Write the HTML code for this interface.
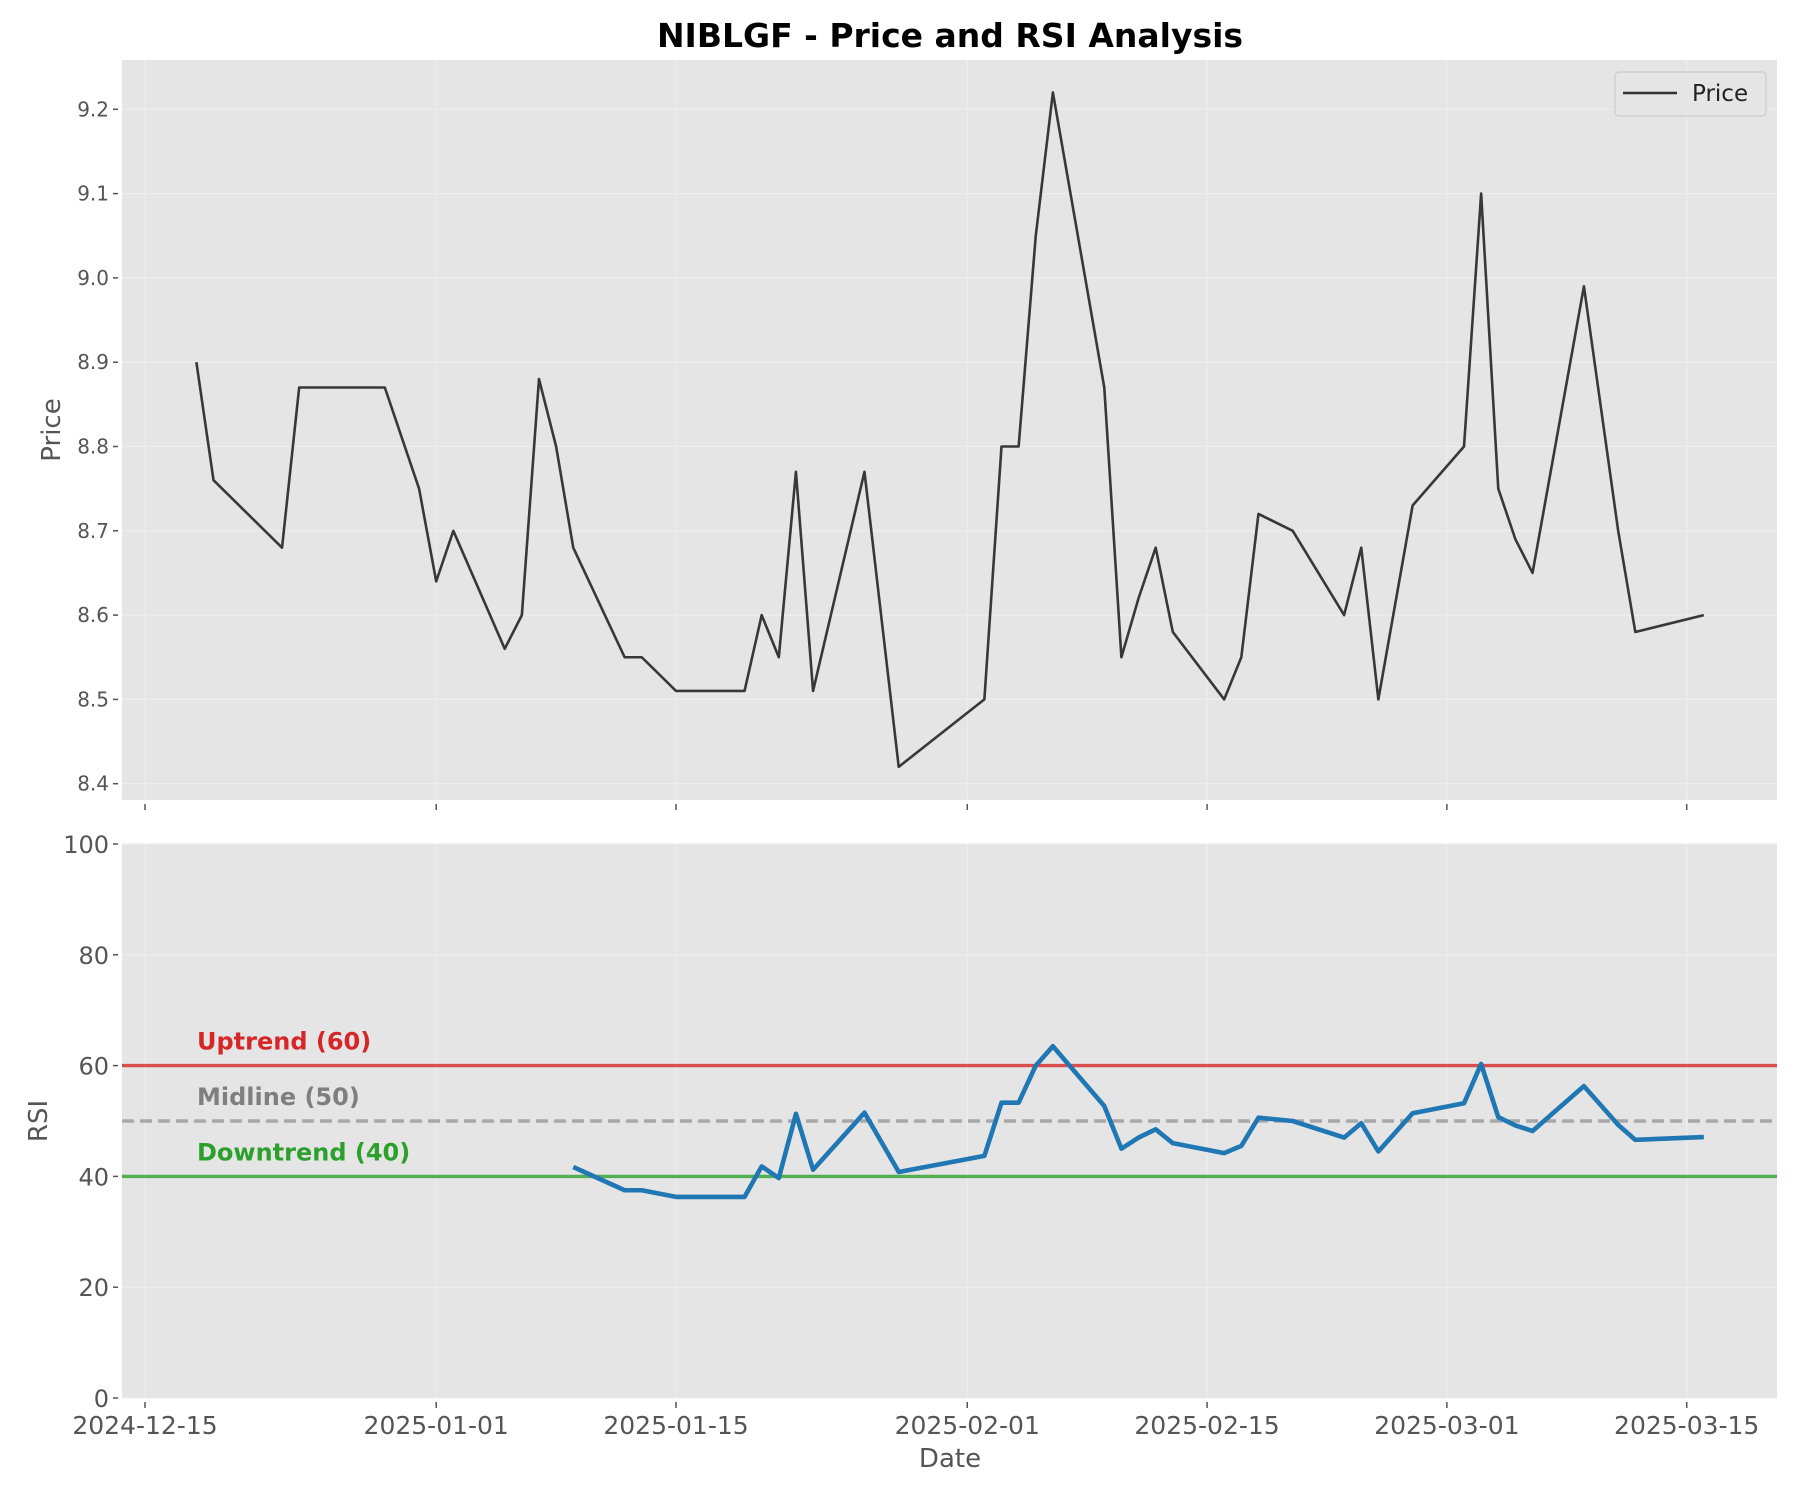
<!DOCTYPE html>
<html><head><meta charset="utf-8"><style>
html,body{margin:0;padding:0;background:#fff;}
svg{display:block;font-family:"DejaVu Sans","Liberation Sans",sans-serif;}
</style></head><body>
<svg id="chart" width="1800" height="1500" viewBox="0 0 1800 1500">
<text x="950" y="47" text-anchor="middle" font-size="33" font-weight="bold" fill="#000">NIBLGF - Price and RSI Analysis</text>
<rect x="122" y="60" width="1655" height="740" fill="#e5e5e5"/>
<rect x="122" y="844" width="1655" height="554" fill="#e5e5e5"/>
<g id="grid"></g>
<g id="axes"></g>
<g id="series"></g>
<text transform="translate(60,430) rotate(-90)" text-anchor="middle" font-size="26" fill="#555">Price</text>
<text transform="translate(47,1121) rotate(-90)" text-anchor="middle" font-size="26" fill="#555">RSI</text>
<text x="950" y="1467" text-anchor="middle" font-size="26" fill="#555">Date</text>
<g>
<rect x="1615" y="72" width="151" height="44" rx="4" fill="#e5e5e5" stroke="#cccccc" stroke-width="1.2"/>
<line x1="1623" y1="93" x2="1677" y2="93" stroke="#333" stroke-width="2.5"/>
<text x="1692" y="101" font-size="23" fill="#222">Price</text>
</g>
</svg>
<script>
const priceDates=["2024-12-18","2024-12-19","2024-12-23","2024-12-24","2024-12-26","2024-12-27","2024-12-29","2024-12-31","2025-01-01","2025-01-02","2025-01-05","2025-01-06","2025-01-07","2025-01-08","2025-01-09","2025-01-12","2025-01-13","2025-01-15","2025-01-19","2025-01-20","2025-01-21","2025-01-22","2025-01-23","2025-01-26","2025-01-28","2025-02-02","2025-02-03","2025-02-04","2025-02-05","2025-02-06","2025-02-09","2025-02-10","2025-02-11","2025-02-12","2025-02-13","2025-02-16","2025-02-17","2025-02-18","2025-02-20","2025-02-23","2025-02-24","2025-02-25","2025-02-27","2025-03-02","2025-03-03","2025-03-04","2025-03-05","2025-03-06","2025-03-09","2025-03-11","2025-03-12","2025-03-16"];
const priceValues=[8.90,8.76,8.68,8.87,8.87,8.87,8.87,8.75,8.64,8.70,8.56,8.60,8.88,8.80,8.68,8.55,8.55,8.51,8.51,8.60,8.55,8.77,8.51,8.77,8.42,8.50,8.80,8.80,9.05,9.22,8.87,8.55,8.62,8.68,8.58,8.50,8.55,8.72,8.70,8.60,8.68,8.50,8.73,8.80,9.10,8.75,8.69,8.65,8.99,8.70,8.58,8.60];
const rsiDates=["2025-01-09","2025-01-12","2025-01-13","2025-01-15","2025-01-19","2025-01-20","2025-01-21","2025-01-22","2025-01-23","2025-01-26","2025-01-28","2025-02-02","2025-02-03","2025-02-04","2025-02-05","2025-02-06","2025-02-09","2025-02-10","2025-02-11","2025-02-12","2025-02-13","2025-02-16","2025-02-17","2025-02-18","2025-02-20","2025-02-23","2025-02-24","2025-02-25","2025-02-27","2025-03-02","2025-03-03","2025-03-04","2025-03-05","2025-03-06","2025-03-09","2025-03-11","2025-03-12","2025-03-16"];
const rsiValues=[41.7,37.5,37.5,36.3,36.3,41.8,39.7,51.3,41.2,51.5,40.8,43.7,53.3,53.3,60.0,63.5,52.7,45.0,47.0,48.5,46.0,44.2,45.5,50.6,50.0,47.0,49.6,44.5,51.4,53.2,60.3,50.7,49.2,48.2,56.3,49.3,46.6,47.1];
const xTickLabels=["2024-12-15","2025-01-01","2025-01-15","2025-02-01","2025-02-15","2025-03-01","2025-03-15"];
const priceTicks=[8.4,8.5,8.6,8.7,8.8,8.9,9.0,9.1,9.2];
const rsiTicks=[0,20,40,60,80,100];
const refLevels=[60,50,40];
const refLabels=["Uptrend (60)","Midline (50)","Downtrend (40)"];

const NS="http://www.w3.org/2000/svg";
const L=122,R=1777,PT=60,PB=800,RT=844,RB=1398;
const day0=Date.UTC(2024,11,15);
function dayOf(s){const p=s.split("-");return (Date.UTC(+p[0],+p[1]-1,+p[2])-day0)/86400000;}
function x(s){return 145+dayOf(s)*17.13;}
function yP(v){return 109.3+(9.2-v)*843;}
function yR(v){return RB-(v/100)*(RB-RT);}
function mk(parent,tag,attrs){const e=document.createElementNS(NS,tag);for(const k in attrs)e.setAttribute(k,attrs[k]);document.getElementById(parent).appendChild(e);return e;}

xTickLabels.forEach(function(t){
  const xx=x(t);
  let g=mk("grid","line",{x1:xx,x2:xx,y1:PT,y2:PB,stroke:"#eeeeee","stroke-width":1.2});
  
  
  g=mk("grid","line",{x1:xx,x2:xx,y1:RT,y2:RB,stroke:"#eeeeee","stroke-width":1.2});
  
  
  let tk=mk("axes","line",{x1:xx,x2:xx,y1:PB+4,y2:PB+10,stroke:"#555","stroke-width":1.5});
  
  
  tk=mk("axes","line",{x1:xx,x2:xx,y1:RB+4,y2:RB+10,stroke:"#555","stroke-width":1.5});
  
  
  const lb=mk("axes","text",{x:xx,y:RB+36,"text-anchor":"middle","font-size":25,fill:"#555"});
  lb.textContent=t;
  
  
});
priceTicks.forEach(function(v){
  const yy=yP(v);
  const g=mk("grid","line",{x1:L,x2:R,y1:yy,y2:yy,stroke:"#eeeeee","stroke-width":1.2});
  
  
  const tk=mk("axes","line",{x1:L-9,x2:L-4,y1:yy,y2:yy,stroke:"#555","stroke-width":1.5});
  
  
  const lb=mk("axes","text",{x:L-13,y:yy+7,"text-anchor":"end","font-size":20,fill:"#555"});
  lb.textContent=v.toFixed(1);
  
  
});
rsiTicks.forEach(function(v){
  const yy=yR(v);
  const g=mk("grid","line",{x1:L,x2:R,y1:yy,y2:yy,stroke:"#eeeeee","stroke-width":1.2});
  
  
  const tk=mk("axes","line",{x1:L-9,x2:L-4,y1:yy,y2:yy,stroke:"#555","stroke-width":1.5});
  
  
  const lb=mk("axes","text",{x:L-13,y:yy+9,"text-anchor":"end","font-size":24,fill:"#555"});
  lb.textContent=String(v);
  
  
});
const refColors=["#d62728","#999999","#2ca02c"];
const refText=["#d62728","#7f7f7f","#2ca02c"];
refLevels.forEach(function(v,i){
  const yy=yR(v);
  const ln=mk("series","line",{x1:L,x2:R,y1:yy,y2:yy,stroke:refColors[i],"stroke-width":3.4,"stroke-opacity":0.8});
  if(i===1){ln.setAttribute("stroke-dasharray","12,6");}
  
  
  const t=mk("series","text",{x:197,y:yy-16,"font-size":24,"font-weight":"bold",fill:refText[i]});
  t.textContent=refLabels[i];
  
  
});
const pp=mk("series","polyline",{points:priceDates.map(function(d,i){return x(d)+","+yP(priceValues[i]);}).join(" "),fill:"none",stroke:"#383838","stroke-width":2.6,"stroke-linejoin":"round"});


const rp=mk("series","polyline",{points:rsiDates.map(function(d,i){return x(d)+","+yR(rsiValues[i]);}).join(" "),fill:"none",stroke:"#1f77b4","stroke-width":4.6,"stroke-linejoin":"round"});


</script>
</body></html>
